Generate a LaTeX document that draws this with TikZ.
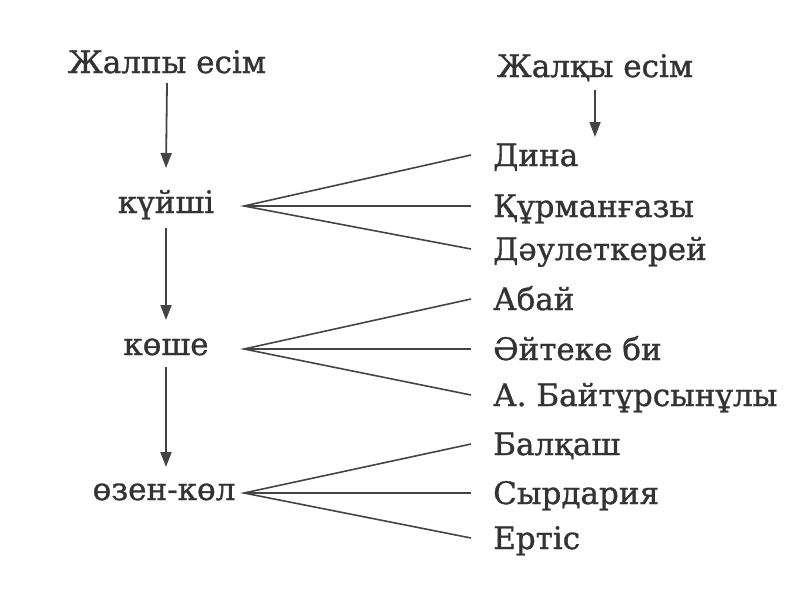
\documentclass[tikz,border=0pt]{standalone}
\usepackage{fontspec}
\setmainfont[FakeBold=1]{DejaVu Serif}
\usetikzlibrary{arrows.meta}
\definecolor{ink}{HTML}{333333}
\definecolor{wire}{HTML}{444444}
\begin{document}
\begin{tikzpicture}[x=1pt,y=-1pt,
  lbl/.style={font=\fontsize{31}{36}\selectfont, text=ink, inner sep=0pt},
  lefttxt/.style={lbl, anchor=base},
  righttxt/.style={lbl, anchor=west, inner xsep=22pt, text height=22pt, text depth=0pt},
  fan/.style={draw=wire, line width=1.6pt},
  arr/.style={draw=wire, line width=1.8pt, -{Triangle[length=15pt,width=11pt]}}]
\useasboundingbox (0,0) rectangle (800,600);
% headings
\node[lefttxt] (zhalpy) at (167,73) {Жалпы есім};
\node[lefttxt] (zhalky) at (595,77) {Жалқы есім};
% left column
\node[lefttxt] (kuishi) at (166,213) {күйші};
\node[lefttxt] (koshe) at (166,355) {көше};
\node[lefttxt] (ozen) at (164,500) {өзен-көл};
% apex coordinates
\coordinate (a1) at (244,206);
\coordinate (a2) at (244,349);
\coordinate (a3) at (244,493);
% right column
\node[righttxt] (dina) at (471,155) {Дина};
\node[righttxt] (kurm) at (471,206) {Құрманғазы};
\node[righttxt] (daul) at (471,249) {Дәулеткерей};
\node[righttxt] (abai) at (471,299) {Абай};
\node[righttxt] (aiteke) at (471,349) {Әйтеке би};
\node[righttxt] (baitur) at (471,395) {А. Байтұрсынұлы};
\node[righttxt] (balkash) at (471,444) {Балқаш};
\node[righttxt] (syr) at (471,493) {Сырдария};
\node[righttxt] (ertis) at (471,538) {Ертіс};
% fans
\draw[fan] (dina.west) -- (a1) -- (daul.west);
\draw[fan] (a1) -- (kurm.west);
\draw[fan] (abai.west) -- (a2) -- (baitur.west);
\draw[fan] (a2) -- (aiteke.west);
\draw[fan] (balkash.west) -- (a3) -- (ertis.west);
\draw[fan] (a3) -- (syr.west);
% arrows
\draw[arr] ([yshift=-10pt]zhalpy.base) -- ([yshift=45pt]kuishi.base);
\draw[arr] ([yshift=-15pt]kuishi.base) -- ([yshift=35pt]koshe.base);
\draw[arr] ([yshift=-12pt]koshe.base) -- ([yshift=33pt]ozen.base -| koshe.base);
\draw[arr] ([yshift=-13pt]zhalky.base) -- ([yshift=29pt]zhalky.base |- dina.base);
\end{tikzpicture}
\end{document}
